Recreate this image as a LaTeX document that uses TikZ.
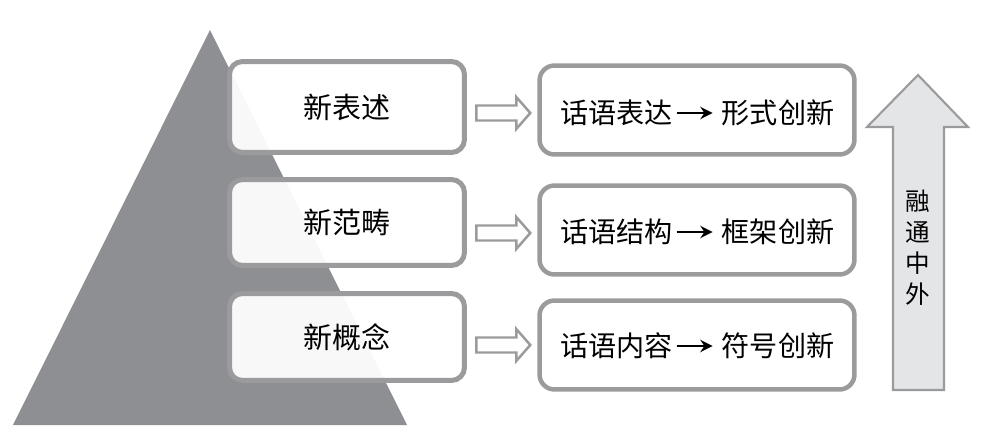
\documentclass[tikz,border=0pt]{standalone}
\usepackage{fontspec}
\setmainfont{Noto Sans CJK SC}
\usetikzlibrary{arrows.meta,calc}

\definecolor{pyrgray}{HTML}{8E8F92}
\definecolor{boxgray}{HTML}{9B9B9D}
\definecolor{upfill}{HTML}{E4E5E7}

\tikzset{
  lbox/.style={draw=boxgray, line width=0.1cm, rounded corners=0.26cm,
    fill=white, fill opacity=0.94, text opacity=1, minimum width=4.7cm,
    font=\fontsize{16.5}{18}\selectfont},
  rbox/.style={draw=boxgray, line width=0.09cm, rounded corners=0.3cm,
    fill=white, minimum width=6.3cm, minimum height=1.78cm},
  rtext/.style={inner sep=0pt, font=\fontsize{16}{18}\selectfont},
  hollow/.pic={
    \draw[boxgray, line width=1.4pt, fill=white]
      (0,-7.5) -- (40,-7.5) -- (40,-16) -- (54,0) -- (40,16) -- (40,7.5) -- (0,7.5) -- cycle;
  }
}

\begin{document}
\begin{tikzpicture}[x=0.02cm, y=-0.02cm]
    \useasboundingbox (0,0) rectangle (992,436);

    % pyramid
    \fill[pyrgray] (210,30) -- (407,425) -- (13,425) -- cycle;

    \node (l1) [lbox, minimum height=1.82cm] at (347,107) {新表述};
    \node (l2) [lbox, minimum height=1.72cm] at (347,222.5) {新范畴};
    \node (l3) [lbox, minimum height=1.74cm] at (347,337) {新概念};

    \node (r1) [rbox] at (697,110) {};
    \node (r2) [rbox] at (697,230) {};
    \node (r3) [rbox] at (697,345) {};

    \node (t1a) [rtext] at (616.5,113) {话语表达};
    \node (t1b) [rtext] at (778,113) {形式创新};
    \node (t2a) [rtext] at (616.5,232) {话语结构};
    \node (t2b) [rtext] at (778,232) {框架创新};
    \node (t3a) [rtext] at (616.5,346) {话语内容};
    \node (t3b) [rtext] at (778,346) {符号创新};

    \foreach \i in {1,2,3} {
        \draw[line width=1.6pt, -{Stealth[length=7pt,width=7pt]},
              shorten <=2pt, shorten >=5pt] (t\i a) -- (t\i b);
    }

    \pic at ($(r1.west)+(-61,3)$) {hollow};
    \pic at ($(r2.west)+(-61,3)$) {hollow};
    \pic at ($(r3.west)+(-61,0)$) {hollow};

    % big up arrow
    \draw[boxgray, line width=1.2pt, fill=upfill]
        (893,390) -- (893,127) -- (867,127) -- (918,75) -- (968,127)
        -- (944,127) -- (944,390) -- cycle;
    \node (up) [align=center, font=\fontsize{14}{17.6}\selectfont] at (918,248)
        {融\\通\\中\\外};
\end{tikzpicture}
\end{document}
